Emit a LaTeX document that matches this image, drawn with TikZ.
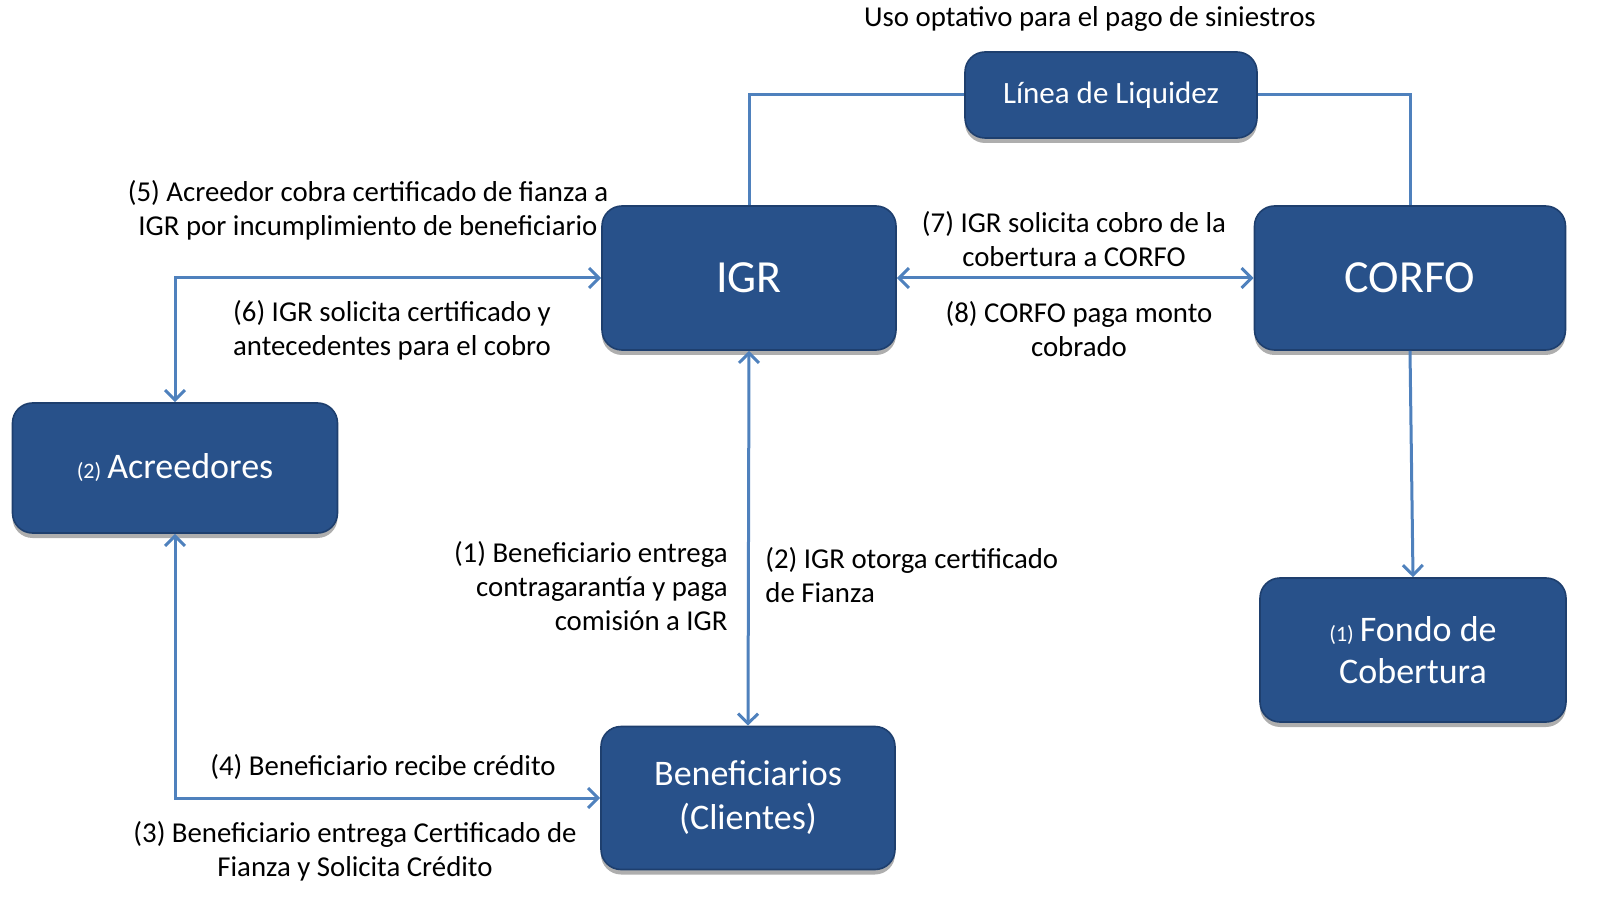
\documentclass[tikz,border=0pt]{standalone}
\usepackage{fontspec}
\setmainfont{Carlito}
\usetikzlibrary{arrows.meta,shadows}
\definecolor{boxblue}{HTML}{28518A}
\definecolor{boxedge}{HTML}{1E3F6E}
\definecolor{linkblue}{HTML}{4F81BD}
\begin{document}
\begin{tikzpicture}[x=0.5pt,y=-0.5pt,
  entity/.style={draw=boxedge,line width=0.8pt,fill=boxblue,rounded corners=10pt,
    text=white,align=center,inner sep=2pt,
    drop shadow={shadow xshift=0pt,shadow yshift=-2.5pt,opacity=0.45,fill=black!70}},
  link/.style={draw=linkblue,line width=1.5pt},
  tip/.style={-{Straight Barb[length=5pt,width=10pt,line width=1.5pt]}},
  tips/.style={{Straight Barb[length=5pt,width=10pt,line width=1.5pt]}-{Straight Barb[length=5pt,width=10pt,line width=1.5pt]}},
  lbl/.style={font=\fontsize{14.4}{17}\selectfont,inner sep=0pt}]
% boxes
\node[entity,minimum width=147pt,minimum height=72pt,font=\fontsize{23}{27}\selectfont] (igr) at (749,278) {IGR};
\node[entity,minimum width=155.5pt,minimum height=72pt,font=\fontsize{23}{27}\selectfont] (corfo) at (1410,278) {CORFO};
\node[entity,minimum width=146pt,minimum height=43pt,font=\fontsize{15.5}{18}\selectfont] (liq) at (1111,95) {Línea de Liquidez};
\node[entity,minimum width=162.5pt,minimum height=65pt,font=\fontsize{18}{21}\selectfont] (acr) at (175,468) {{\fontsize{11}{13}\selectfont(2)}\,Acreedores};
\node[entity,minimum width=153pt,minimum height=72pt,font=\fontsize{18}{21}\selectfont] (fondo) at (1413,650) {{\fontsize{11}{13}\selectfont(1)}\,Fondo de\\Cobertura};
\node[entity,minimum width=147pt,minimum height=71.5pt,font=\fontsize{18}{22}\selectfont] (ben) at (748,798) {Beneficiarios\\(Clientes)};
% helper coordinates
\coordinate (c1) at (749,95);
\coordinate (c2) at (1410,95);
\coordinate (c3) at (175,278);
\coordinate (c4) at (175,798);
% connectors
\draw[link] (liq.west) -- (c1) -- (igr.north);
\draw[link] (liq.east) -- (c2) -- (corfo.north);
\draw[link,tips] (igr.east) -- (corfo.west);
\draw[link,tips] (igr.west) -- (c3) -- (acr.north);
\draw[link,tips] (acr.south) -- (c4) -- (ben.west);
\draw[link,tips] (igr.south) -- (ben.north);
\draw[link,tip] (corfo.south) -- (fondo.north);
% labels
\node[lbl] (t0) at (1090,19) {Uso optativo para el pago de siniestros};
\node[lbl,align=center] (t5) at (368,210) {(5) Acreedor cobra certificado de fianza a\\IGR por incumplimiento de beneficiario};
\node[lbl,align=center] (t6) at (392,330) {(6) IGR solicita certificado y\\antecedentes para el cobro};
\node[lbl,align=center] (t7) at (1074,239) {(7) IGR solicita cobro de la\\cobertura a CORFO};
\node[lbl,align=center] (t8) at (1079,329) {(8) CORFO paga monto\\cobrado};
\node[lbl,align=right,anchor=east] (t1) at (728,586) {(1) Beneficiario entrega\\contragarantía y paga\\comisión a IGR};
\node[lbl,align=left,anchor=west] (t2) at (765,575) {(2) IGR otorga certificado\\de Fianza};
\node[lbl] (t4) at (383,767) {(4) Beneficiario recibe crédito};
\node[lbl,align=center] (t3) at (355,851) {(3) Beneficiario entrega Certificado de\\Fianza y Solicita Crédito};
\pgfresetboundingbox
\useasboundingbox (0,0) rectangle (1606,903);
\end{tikzpicture}
\end{document}
